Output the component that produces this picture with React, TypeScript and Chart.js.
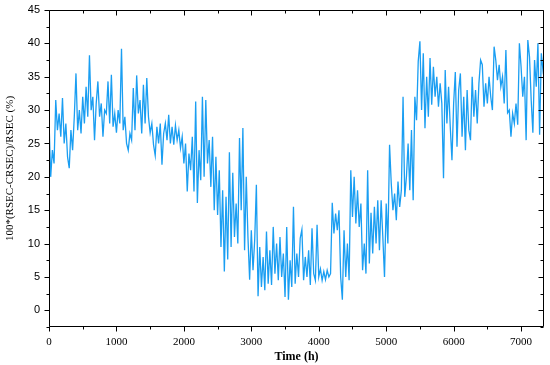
import React, { useEffect, useRef } from 'react';
import { Chart, registerables } from 'chart.js';

Chart.register(...registerables);

// Sampling of the time axis (hours)
const startHour = 0;
const stepHours = 25;

// 100*(RSEC-CRSEC)/RSEC (%), one value every 25 h
const rsecDeviation: number[] = [
  28.5, 20, 24, 22,
  31.5, 27, 29.5, 26,
  31.8, 25, 28, 23,
  21.3, 27, 24, 29,
  35.5, 27, 30, 26.5,
  32, 28, 33.5, 29,
  38.2, 30, 32, 25.5,
  31, 34.3, 29, 31,
  26, 30, 29.5, 34.3,
  28, 35.3, 27.5, 29.5,
  26.6, 30, 28, 39.2,
  27, 29, 25, 24,
  26.5, 25.5, 33.3, 27,
  35.2, 29.5, 31.5, 26.5,
  33.8, 28, 34.8, 29,
  26.6, 28, 24.8, 23.2,
  27.5, 25, 28, 21.8,
  26.5, 28, 25.5, 29.3,
  25, 27.5, 24.8, 27.7,
  25.5, 27, 24.3, 26,
  22, 25, 17.8, 23.5,
  21, 26, 17.8, 31.3,
  16.1, 24, 19.5, 32,
  20, 31.5, 22, 25.5,
  18.5, 26, 15, 23,
  14.3, 21, 9.5, 18,
  5.8, 17, 7.6, 23.7,
  9.5, 20.6, 11, 16,
  10, 25.8, 15, 27.3,
  9, 20, 11, 4.6,
  12, 6, 10.5, 18.8,
  2.1, 9.5, 3.5, 8,
  3, 11.8, 4, 9,
  3.8, 12.5, 5.5, 10,
  4.5, 11, 5, 8.5,
  2, 12.5, 1.6, 7.5,
  3.5, 15.5, 4, 8.5,
  5, 10.8, 12.1, 4.5,
  8, 5, 9, 3.8,
  12.3, 5.5, 4.5, 12.8,
  5, 6.2, 4.5, 5.8,
  4.6, 6, 5, 5.5,
  16.1, 11.5, 14.5, 12,
  15, 5, 1.6, 12,
  5, 10, 4.5, 21,
  14, 20, 13, 18,
  12.5, 16, 6, 10,
  5.5, 21, 7, 14.6,
  8.5, 15.5, 10, 16.5,
  9, 16.5, 11, 5,
  16, 10, 24.8, 19,
  15, 17.5, 13.5, 19.3,
  15.5, 18, 32, 17,
  20, 25, 18, 27,
  16.5, 32, 28.5, 37.3,
  40.3, 30, 38.5, 27.3,
  35, 29, 37.8, 30.8,
  36.5, 32, 35, 30.5,
  34, 31, 19.8, 36,
  28, 33.5, 27.5, 22.5,
  31, 35.7, 24.5, 33,
  35.5, 26, 32, 24,
  33, 27, 25.5, 35,
  29, 33, 28, 34,
  37.5, 36.8, 30.5, 34,
  31, 35, 32, 30,
  39.5, 37.5, 34.5, 36.8,
  33.5, 35, 31, 39,
  29.6, 30, 26, 29.5,
  28, 31, 27.8, 40,
  36.5, 32, 35, 25.5,
  40.5, 38, 31.5, 26.6,
  37.5, 33.5, 40, 26.3,
  38.5, 36, 37.5,
];

const xTickLabels = [0, 1000, 2000, 3000, 4000, 5000, 6000, 7000];
const xMinorTicks = [500, 1500, 2500, 3500, 4500, 5500, 6500];
const yTickLabels = [0, 5, 10, 15, 20, 25, 30, 35, 40, 45];
const yMinorTicks = [-2.5, 2.5, 7.5, 12.5, 17.5, 22.5, 27.5, 32.5, 37.5, 42.5];
const xRange = [0, 7340];
const yRange = [-2.5, 45];
const xAxisTitle = 'Time (h)';
const yAxisTitle = '100*(RSEC-CRSEC)/RSEC (%)';

const LINE_COLOR = '#1a9ef2';

const frameTicks = {
  id: 'frameTicks',
  afterDraw(chart: any) {
    const { ctx, chartArea } = chart;
    const xs = chart.scales.x;
    const ys = chart.scales.y;
    const L = Math.round(chartArea.left) + 0.5;
    const R = Math.round(chartArea.right) - 0.5;
    const T = Math.round(chartArea.top) + 0.5;
    const B = Math.round(chartArea.bottom) - 0.5;
    ctx.save();
    ctx.strokeStyle = '#000';
    ctx.lineWidth = 1;
    ctx.beginPath();
    ctx.rect(L, T, R - L, B - T);
    const major = 5;
    const minor = 3;
    const vx = (v: number) => Math.round(xs.getPixelForValue(v)) + 0.5;
    const vy = (v: number) => Math.round(ys.getPixelForValue(v)) + 0.5;
    xTickLabels.forEach((v) => {
      const p = vx(v);
      ctx.moveTo(p, B); ctx.lineTo(p, B + major);
      ctx.moveTo(p, T); ctx.lineTo(p, T + major);
    });
    xMinorTicks.forEach((v) => {
      const p = vx(v);
      ctx.moveTo(p, B); ctx.lineTo(p, B + minor);
      ctx.moveTo(p, T); ctx.lineTo(p, T + minor);
    });
    yTickLabels.forEach((v) => {
      const p = vy(v);
      ctx.moveTo(L, p); ctx.lineTo(L - major, p);
      ctx.moveTo(R, p); ctx.lineTo(R - major, p);
    });
    yMinorTicks.forEach((v) => {
      const p = vy(v);
      ctx.moveTo(L, p); ctx.lineTo(L - minor, p);
      ctx.moveTo(R, p); ctx.lineTo(R - minor, p);
    });
    ctx.stroke();
    ctx.restore();
  },
};

export default function App() {
  const canvasRef = useRef<HTMLCanvasElement | null>(null);

  useEffect(() => {
    const canvas = canvasRef.current;
    if (!canvas) return;
    const points = rsecDeviation.map((v, i) => ({ x: startHour + i * stepHours, y: v }));
    const serif = "'Liberation Serif', 'Times New Roman', serif";
    const sans = "'Liberation Sans', Arial, sans-serif";
    const chart = new Chart(canvas, {
      type: 'line',
      data: {
        datasets: [
          {
            data: points,
            borderColor: LINE_COLOR,
            borderWidth: 1.3,
            pointRadius: 0,
            tension: 0,
            fill: false,
          },
        ],
      },
      options: {
        responsive: false,
        animation: false,
        events: [],
        layout: { padding: { top: 10, right: 6, left: 0, bottom: 0 } },
        plugins: {
          legend: { display: false },
          tooltip: { enabled: false },
        },
        scales: {
          x: {
            type: 'linear',
            min: xRange[0],
            max: xRange[1],
            grid: { display: false },
            border: { display: false },
            afterBuildTicks: (scale: any) => {
              scale.ticks = xTickLabels.map((v) => ({ value: v }));
            },
            afterFit: (scale: any) => {
              scale.height = 38;
            },
            ticks: {
              padding: 1,
              maxRotation: 0,
              autoSkip: false,
              color: '#000',
              font: { family: serif, size: 11 },
              callback: (v: any) => String(v),
            },
            title: {
              display: true,
              text: xAxisTitle,
              color: '#000',
              font: { family: serif, size: 12, weight: 'bold' },
              padding: { top: 0, bottom: 1 },
            },
          },
          y: {
            type: 'linear',
            min: yRange[0],
            max: yRange[1],
            grid: {
              display: true,
              drawOnChartArea: false,
              drawTicks: true,
              tickLength: 9,
              tickColor: 'rgba(0,0,0,0)',
              color: 'rgba(0,0,0,0)',
            },
            border: { display: false },
            afterBuildTicks: (scale: any) => {
              scale.ticks = yTickLabels.map((v) => ({ value: v }));
            },
            afterFit: (scale: any) => {
              scale.width = 49;
            },
            ticks: {
              padding: 0,
              autoSkip: false,
              color: '#000',
              font: { family: sans, size: 11 },
              callback: (v: any) => String(v),
            },
            title: {
              display: true,
              text: yAxisTitle,
              color: '#000',
              font: { family: serif, size: 11 },
              padding: { top: 3.5, bottom: 0 },
            },
          },
        },
      },
      plugins: [frameTicks],
    } as any);
    return () => chart.destroy();
  }, []);

  return (
    <div style={{ position: 'fixed', left: 0, top: 0, width: 550, height: 365, background: '#fff' }}>
      <canvas ref={canvasRef} width={550} height={365} style={{ display: 'block' }} />
    </div>
  );
}
